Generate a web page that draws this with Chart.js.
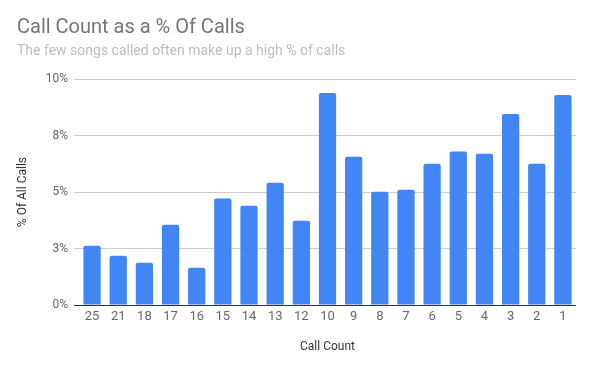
<!DOCTYPE html>
<html>
<head>
  <title>Call Count as a % Of Calls</title>
  <style>
    body {
      margin: 0;
      background: #fff;
    }
  </style>
</head>
<body>
  <canvas id="chart" width="598" height="371"></canvas>
  <script src="https://cdn.jsdelivr.net/npm/chart.js"></script>
  <script>
    const callCounts = ['25', '21', '18', '17', '16', '15', '14', '13', '12', '10', '9', '8', '7', '6', '5', '4', '3', '2', '1'];
    const pctOfCalls = [2.62, 2.18, 1.87, 3.55, 1.65, 4.72, 4.39, 5.41, 3.73, 9.39, 6.56, 5.01, 5.10, 6.25, 6.80, 6.69, 8.46, 6.25, 9.30];
    const yTickLabels = ['0%', '3%', '5%', '8%', '10%'];

    const font = 'Roboto, Arial, sans-serif';

    new Chart(document.getElementById('chart'), {
      type: 'bar',
      data: {
        labels: callCounts,
        datasets: [{
          label: '% Of All Calls',
          data: pctOfCalls,
          backgroundColor: '#4285f4',
          borderRadius: 2,
          borderSkipped: 'bottom',
          barPercentage: 0.66,
          categoryPercentage: 1
        }]
      },
      options: {
        responsive: false,
        animation: false,
        layout: {
          padding: { left: 17, right: 22, top: 0, bottom: 17 }
        },
        plugins: {
          legend: { display: false },
          tooltip: { enabled: false },
          title: {
            display: true,
            text: 'Call Count as a % Of Calls',
            align: 'start',
            color: '#757575',
            font: { family: font, size: 20, weight: 'normal', lineHeight: 1.2 },
            padding: { top: 16, bottom: 3 }
          },
          subtitle: {
            display: true,
            text: 'The few songs called often make up a high % of calls',
            align: 'start',
            color: '#bdbdbd',
            font: { family: font, size: 14, weight: 'normal', lineHeight: 1.2 },
            padding: { top: 0, bottom: 19.3 }
          }
        },
        scales: {
          x: {
            grid: { display: false, drawTicks: false },
            border: { display: false },
            ticks: {
              color: '#666',
              padding: 4,
              maxRotation: 0,
              font: { family: font, size: 13 }
            },
            title: {
              display: true,
              text: 'Call Count',
              color: '#333',
              font: { family: font, size: 12, lineHeight: 1.2 },
              padding: { top: 11, bottom: 0 }
            }
          },
          y: {
            min: 0,
            max: 10,
            // gridlines reach a little left of the first bar, as in the original
            afterFit: (scale) => { scale.width = 62; },
            border: { display: false },
            grid: {
              drawTicks: true,
              tickLength: 5,
              color: (ctx) => ctx.tick && ctx.tick.value === 0 ? '#333' : '#ccc'
            },
            ticks: {
              stepSize: 2.5,
              padding: 6,
              color: '#666',
              font: { family: font, size: 12 },
              callback: (value, index) => yTickLabels[index]
            },
            title: {
              display: true,
              text: '% Of All Calls',
              color: '#333',
              font: { family: font, size: 12, lineHeight: 1 },
              padding: 0
            }
          }
        }
      }
    });
  </script>
</body>
</html>
